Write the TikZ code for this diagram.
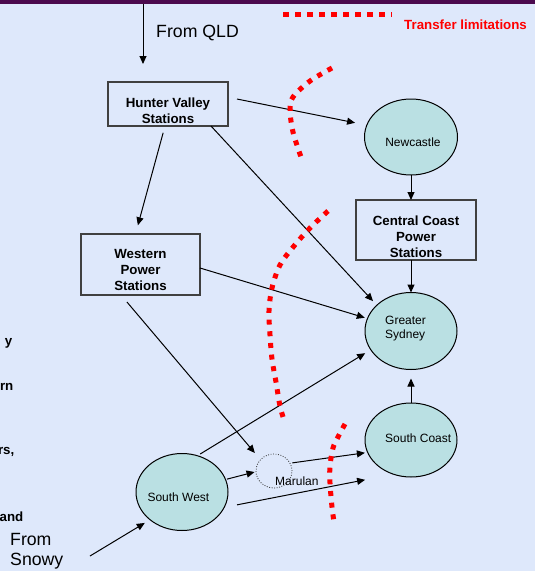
\documentclass[tikz,border=0pt]{standalone}
\usepackage{fontspec}
\setmainfont{Liberation Sans}
\usetikzlibrary{arrows.meta,calc,shapes.geometric}
\definecolor{bgblue}{RGB}{222,232,251}
\definecolor{nodefill}{RGB}{186,224,227}
\definecolor{barpurple}{RGB}{75,10,78}
\definecolor{boxline}{RGB}{64,64,64}
\newcommand\fsbig{\fontsize{17.7}{21}\selectfont}
\newcommand\fsbold{\fontsize{13.3}{16}\selectfont\bfseries}
\newcommand\fssmall{\fontsize{12}{14}\selectfont}
\begin{document}
\begin{tikzpicture}[x=1pt,y=-1pt,
  stationbox/.style={draw=boxline, line width=1.2pt, rectangle, inner sep=0pt, outer sep=0pt},
  region/.style={draw=black, line width=1pt, ellipse, fill=nodefill, inner sep=0pt, outer sep=0pt},
  hub/.style={draw=black!80, line width=0.8pt, dash pattern=on 0.9pt off 1.6pt, ellipse, inner sep=0pt, outer sep=0pt, minimum width=36pt, minimum height=34pt},
  arr/.style={draw=black, line width=1pt, -{Triangle[length=8pt,width=7pt]}},
  limit/.style={draw=red, line width=5pt, dash pattern=on 5pt off 6.7pt},
  boxlbl/.style={font=\fsbold, inner sep=0pt},
  bigtxt/.style={font=\fsbig, inner sep=0pt, anchor=base west},
  smalltxt/.style={font=\fssmall, inner sep=0pt},
  cuttxt/.style={font=\fsbold, inner sep=0pt, anchor=base east}
]
\fill[bgblue] (0,0) rectangle (535,571);
\useasboundingbox (0,0) rectangle (535,571);
\fill[barpurple] (0,0) rectangle (535,3.5);

% station boxes
\node[stationbox, minimum width=120pt, minimum height=44pt] (hunter) at (168,104) {};
\node[stationbox, minimum width=119pt, minimum height=61pt] (western) at (140.5,264.5) {};
\node[stationbox, minimum width=120pt, minimum height=60pt] (central) at (416,230) {};
\node[boxlbl] (hunterlbl) at ($(hunter)+(0,8.1)$) {\begin{tabular}{@{}c@{}}Hunter Valley\\Stations\end{tabular}};
\node[boxlbl] (westernlbl) at ($(western)+(0,7.2)$) {\begin{tabular}{@{}c@{}}Western\\Power\\Stations\end{tabular}};
\node[boxlbl] (centrallbl) at ($(central)+(0,8.7)$) {\begin{tabular}{@{}c@{}}Central Coast\\Power\\Stations\end{tabular}};

% regions
\node[region, minimum width=93pt, minimum height=76pt] (newcastle) at (411,137) {};
\node[region, minimum width=92pt, minimum height=77pt] (sydney) at (411,331) {};
\node[region, minimum width=92pt, minimum height=74pt] (scoast) at (411,440) {};
\node[region, minimum width=92pt, minimum height=77pt] (swest) at (182,492) {};
\node[hub] (marulan) at (274,471) {};

\node[smalltxt, anchor=base] (newcastlelbl) at (413,146) {Newcastle};
\node[smalltxt, anchor=west] (sydneylbl) at (385,328.2) {\begin{tabular}{@{}l@{}}Greater\\Sydney\end{tabular}};
\node[smalltxt, anchor=base west] (scoastlbl) at (385,442) {South Coast};
\node[smalltxt, anchor=base west] (swestlbl) at (147.3,501.5) {South West};
\node[smalltxt, anchor=base west] (marulanlbl) at (275,485.5) {Marulan};

% free texts
\node[bigtxt] (qldlbl) at (156,37.5) {From QLD};
\node[bigtxt] (fromlbl) at (10,545) {From};
\node[bigtxt] (snowylbl) at (10,565.5) {Snowy};
\node[font=\fsbold, text=red, inner sep=0pt, anchor=base west] (legendlbl) at (404,29) {Transfer limitations};
\node[cuttxt] (cut1) at (12.5,345.3) {y};
\node[cuttxt] (cut2) at (13.5,390) {rn};
\node[cuttxt] (cut3) at (14.5,454) {rs,};
\node[cuttxt] (cut4) at (23.5,521) {and};

% connectors
\coordinate (qld) at (143,4);
\coordinate (snowy) at (90,556);
\draw[arr, shorten >=18pt] (qld) -- (qld |- hunter.north);
\draw[arr, shorten <=7pt, shorten >=9pt] ([xshift=-3pt]hunter.south) -- ([xshift=-5pt]western.north);
\draw[arr, shorten <=9.2pt, shorten >=12pt] ([yshift=6.8pt]hunter.east) -- (newcastle.165);
\draw[arr, shorten >=5.6pt] ([xshift=43pt]hunter.south) -- (sydney.143);
\draw[arr] (newcastle.south) -- (newcastle.south |- central.north);
\draw[arr] (central.south -| sydney.north) -- (sydney.north);
\draw[arr, shorten >=9pt] (scoast.north) -- (sydney.south);
\draw[arr, shorten >=2.8pt] ([yshift=-3.5pt]western.east) -- (sydney.164);
\draw[arr, shorten <=3.3pt, shorten >=6.6pt] (swest.67) -- (sydney.205);
\draw[arr, shorten <=9.2pt, shorten >=8.8pt] ([xshift=-19.5pt]western.south) -- (marulan.140);
\draw[arr, shorten <=1.5pt, shorten >=1.5pt] (swest.16) -- (marulan.182);
\draw[arr, shorten <=2.3pt, shorten >=2.8pt] (marulan.26) -- (scoast.196);
\draw[arr, shorten <=13.1pt, shorten >=29pt] (swest.-20) -- (scoast.243);
\draw[arr, shorten >=6.2pt] (snowy) -- (swest.221);

% transfer limitations
\draw[limit, dash pattern=on 5.5pt off 6.5pt] (283,14) -- (392,14);
\draw[limit] plot[smooth, tension=0.55] coordinates {(332,68) (310,81) (293,97) (290,110) (293,132) (301,157)};
\draw[limit] plot[smooth, tension=0.55] coordinates {(328,211) (310,228) (294,246) (280,265) (272,288) (269,311) (270,335) (272,359) (276,382) (280,406) (284,420)};
\draw[limit] plot[smooth, tension=0.55] coordinates {(345,424) (338,437) (333,448) (330,466) (330,483) (332,507) (334,522)};
\end{tikzpicture}
\end{document}
